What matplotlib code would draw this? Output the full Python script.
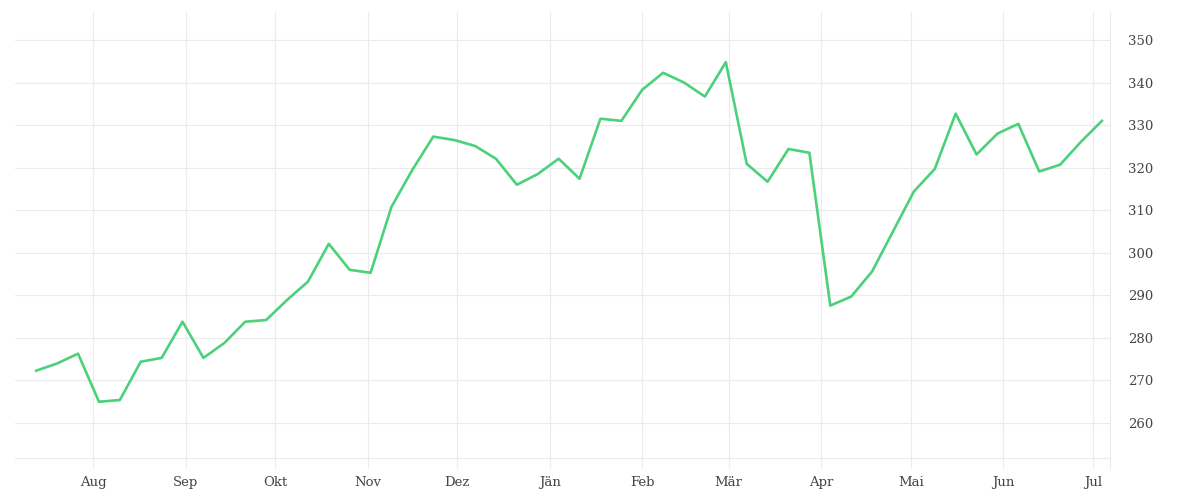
import matplotlib
matplotlib.use("Agg")
import matplotlib.pyplot as plt
import matplotlib.dates as mdates
import pandas as pd
import datetime as dt

start_date = "2023-07-13"
values = [272.3, 274.0, 276.3, 265.0, 265.4, 274.4, 275.3, 283.8, 275.3, 278.8,
          283.8, 284.2, 288.9, 293.2, 302.1, 296.0, 295.3, 310.8, 319.5, 327.3,
          326.5, 325.1, 322.1, 316.0, 318.5, 322.1, 317.4, 331.5, 331.0, 338.3,
          342.3, 340.0, 336.7, 344.8, 320.9, 316.7, 324.4, 323.5, 287.6, 289.7,
          295.6, 305.0, 314.4, 319.7, 332.7, 323.1, 328.0, 330.3, 319.1, 320.7,
          326.1, 331.0]
dates = pd.date_range(start_date, periods=len(values), freq="7D")

month_ticks = pd.date_range("2023-08-01", "2024-07-01", freq="MS")
month_labels = ["Aug", "Sep", "Okt", "Nov", "Dez", "Jän", "Feb", "Mär",
                "Apr", "Mai", "Jun", "Jul"]
y_ticks = [260, 270, 280, 290, 300, 310, 320, 330, 340, 350]

grid_c = "#ebebeb"
text_c = "#444444"

fig = plt.figure(figsize=(12, 5), dpi=100)
ax = fig.add_axes([15/1200, 42/500, (1110-15)/1200, (458-12)/500])

ax.plot(dates, values, color="#4bd17a", lw=1.9, solid_joinstyle="round", zorder=3)

ax.set_xlim(mdates.date2num(dt.datetime(2023, 7, 5, 21)),
            mdates.date2num(dt.datetime(2024, 7, 6, 17)))
ax.set_ylim(251.78, 356.58)

ax.set_xticks(month_ticks)
ax.set_xticklabels(month_labels, family="DejaVu Serif", fontsize=9.5, color=text_c)
ax.set_yticks(y_ticks)
ax.set_yticklabels([str(v) for v in y_ticks], family="DejaVu Serif", fontsize=9.5, color=text_c)
ax.yaxis.tick_right()

ax.tick_params(axis="x", length=7.2, width=0.8, color=grid_c, pad=6)
ax.tick_params(axis="y", length=0, pad=13)

ax.grid(True, color=grid_c, lw=0.8, zorder=0)
for s in ["left", "top"]:
    ax.spines[s].set_visible(False)
ax.spines["bottom"].set_color(grid_c)
ax.spines["bottom"].set_linewidth(0.8)
ax.spines["right"].set_visible(False)
ax.plot([1, 1], [1, -10/446], transform=ax.transAxes, color=grid_c, lw=0.8,
        clip_on=False, zorder=1)

fig.savefig("out.png", dpi=100, facecolor="white")
